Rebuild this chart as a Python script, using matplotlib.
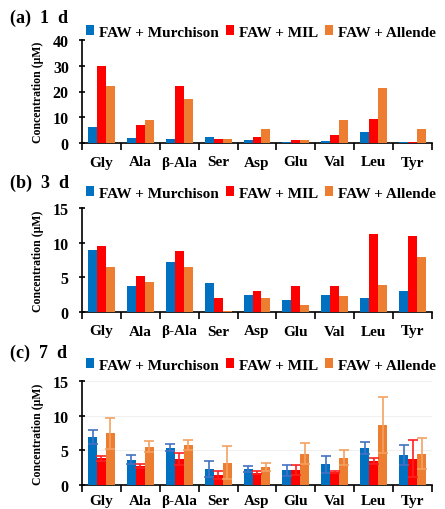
import matplotlib
matplotlib.use("Agg")
import matplotlib.pyplot as plt
import numpy as np

plt.rcParams['font.family'] = ['Liberation Serif', 'DejaVu Serif']
plt.rcParams['font.weight'] = 'bold'

categories = ["Gly", "Ala", "β-Ala", "Ser", "Asp", "Glu", "Val", "Leu", "Tyr"]
series_names = ["FAW + Murchison", "FAW + MIL", "FAW + Allende"]

# (a) 1 d
d1_murchison = [6.4, 1.8, 1.5, 2.2, 1.0, 0.5, 0.9, 4.1, 0.5]
d1_mil = [29.9, 6.9, 22.3, 1.5, 2.5, 1.0, 3.0, 9.4, 0.5]
d1_allende = [22.3, 8.9, 17.0, 1.5, 5.3, 1.0, 8.9, 21.2, 5.3]

# (b) 3 d
d3_murchison = [9.0, 3.8, 7.2, 4.15, 2.4, 1.75, 2.45, 1.95, 3.0]
d3_mil = [9.5, 5.2, 8.85, 2.0, 3.1, 3.8, 3.7, 11.2, 11.0]
d3_allende = [6.5, 4.3, 6.5, 0.2, 2.0, 1.05, 2.35, 3.9, 7.9]

# (c) 7 d with error bars
d7_murchison = [6.9, 3.65, 5.4, 2.3, 2.3, 2.1, 3.0, 5.3, 4.3]
d7_mil = [3.85, 2.7, 3.75, 1.4, 1.8, 2.2, 1.9, 3.45, 3.8]
d7_allende = [7.45, 5.5, 5.75, 3.2, 2.6, 4.5, 3.95, 8.65, 4.5]
d7_murchison_err = [1.0, 0.65, 0.5, 1.15, 0.4, 0.85, 1.2, 0.9, 1.45]
d7_mil_err = [0.35, 0.3, 0.9, 0.55, 0.2, 0.7, 0.1, 0.4, 2.65]
d7_allende_err = [2.25, 0.8, 0.7, 2.4, 0.55, 1.5, 1.05, 4.0, 2.25]

panel_titles = ["(a)  1  d", "(b)  3  d", "(c)  7  d"]
ylims = [40, 15, 15]
yticks = [[0, 10, 20, 30, 40], [0, 5, 10, 15], [0, 5, 10, 15]]

bar_colors = ["#0070C0", "#FF0000", "#ED7D31"]
err_colors = ["#4472C4", "#FF2020", "#F4A261"]

W, H = 445, 510
fig = plt.figure(figsize=(W / 100, H / 100), dpi=100)

axes_px = [(41, 144), (209, 313), (382, 486)]
title_y = [18, 183, 353]
legend_y = [33, 194, 366]
xpads = [9, 9, 6.5]
left_px, right_px = 82, 432

data = [
    (d1_murchison, d1_mil, d1_allende, None),
    (d3_murchison, d3_mil, d3_allende, None),
    (d7_murchison, d7_mil, d7_allende, (d7_murchison_err, d7_mil_err, d7_allende_err)),
]

x = np.arange(len(categories))
bw = 0.23
for i, (top, bot) in enumerate(axes_px):
    ax = fig.add_axes([left_px / W, 1 - bot / H, (right_px - left_px) / W, (bot - top) / H])
    m, mil, al, errs = data[i]
    handles = []
    for j, vals in enumerate([m, mil, al]):
        kw = {}
        if errs is not None:
            kw = dict(yerr=errs[j], capsize=3.5,
                      error_kw=dict(ecolor=err_colors[j], elinewidth=1.2, capthick=1.2))
        b = ax.bar(x + (j - 1) * bw, vals, width=bw, color=bar_colors[j],
                   label=series_names[j], zorder=3, **kw)
        handles.append(b)
    ax.set_xlim(-0.5, 8.5)
    ax.set_ylim(0, ylims[i])
    ax.set_yticks(yticks[i])
    ax.set_xticks(x)
    ax.set_xticklabels(categories, fontsize=11, fontweight='bold')
    ax.tick_params(axis='x', length=0, pad=xpads[i])
    ax.set_xticks(np.arange(-0.5, 9.0, 1.0), minor=True)
    ax.tick_params(axis='x', which='minor', length=5, width=1.2, direction='out')
    ax.tick_params(axis='y', length=5, width=1.2, direction='inout', labelsize=11.5, pad=7)
    for lab in ax.get_yticklabels():
        lab.set_fontweight('bold')
    for s in ['top', 'right']:
        ax.spines[s].set_visible(False)
    for s in ['left', 'bottom']:
        ax.spines[s].set_linewidth(1.2)
    if i == 2:
        ax.yaxis.grid(True, color='#F0F0F0', linewidth=0.8, zorder=0)
    ax.set_ylabel("Concentration (μM)", fontsize=8.5, fontweight='bold', labelpad=6)
    fig.text(10 / W, 1 - title_y[i] / H, panel_titles[i], fontsize=13, fontweight='bold',
             va='center', ha='left')
    fig.legend(handles=handles, loc='center left', bbox_to_anchor=(86 / W, 1 - legend_y[i] / H),
               ncol=3, frameon=False, handlelength=0.55, handleheight=0.55, handletextpad=0.3,
               columnspacing=0.45, borderpad=0, borderaxespad=0,
               prop=dict(family='Liberation Serif', weight='bold', size=11))

fig.savefig("out.png", dpi=100)
